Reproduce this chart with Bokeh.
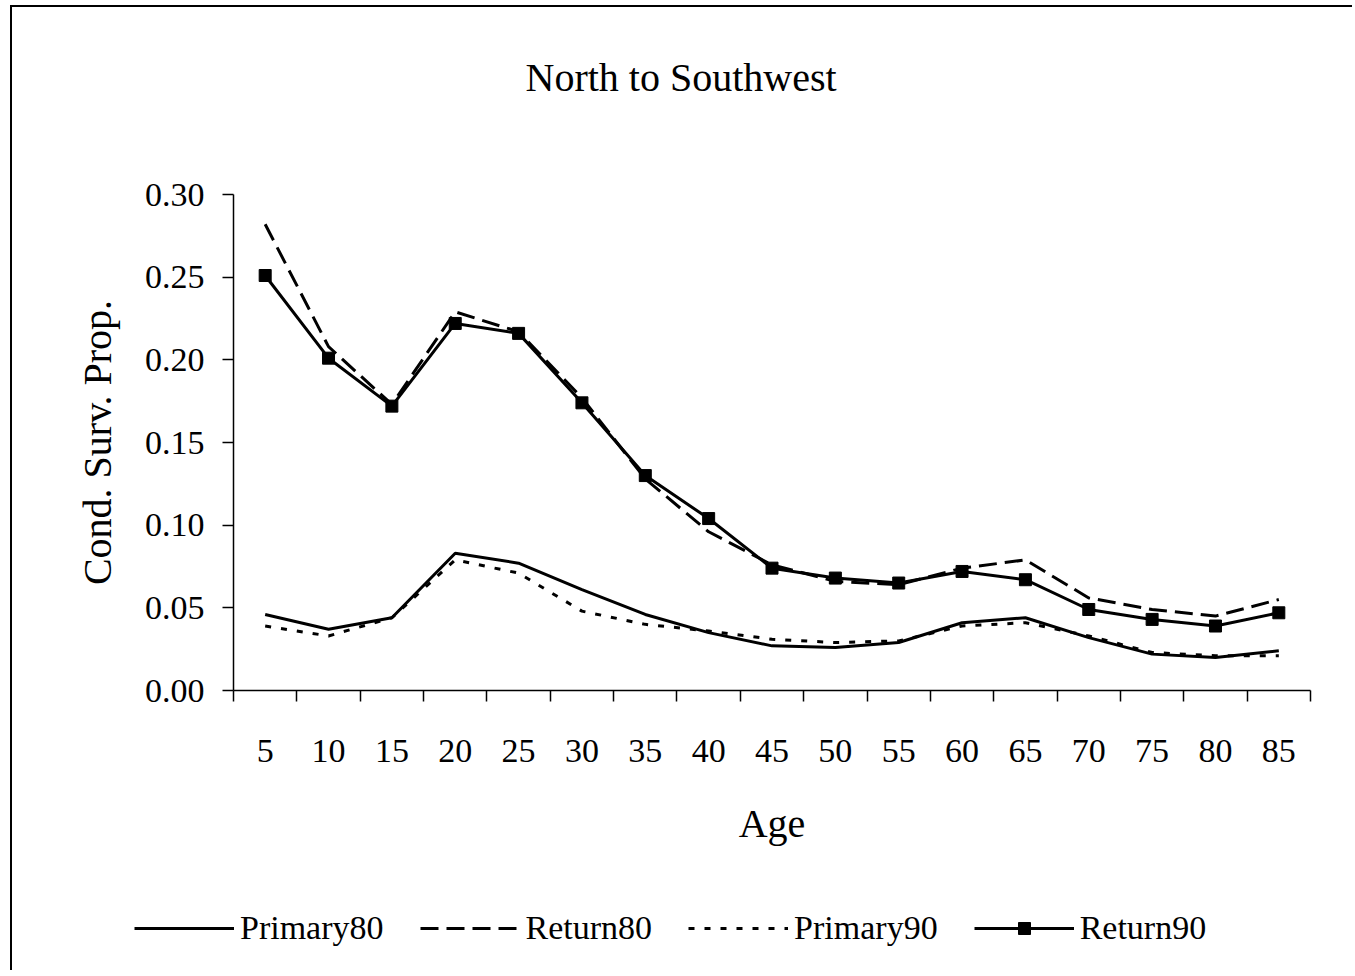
from bokeh.plotting import figure
from bokeh.models import (Range1d, FixedTicker, NumeralTickFormatter, Legend, LegendItem, LinearAxis)
from bokeh.embed import file_html
from bokeh.resources import INLINE

ages = [5, 10, 15, 20, 25, 30, 35, 40, 45, 50, 55, 60, 65, 70, 75, 80, 85]
primary80 = [0.046, 0.037, 0.044, 0.083, 0.077, 0.061, 0.046, 0.035, 0.027, 0.026, 0.029, 0.041, 0.044, 0.032, 0.022, 0.020, 0.024]
return80 = [0.282, 0.208, 0.173, 0.229, 0.217, 0.177, 0.128, 0.096, 0.076, 0.066, 0.064, 0.074, 0.079, 0.056, 0.049, 0.045, 0.055]
primary90 = [0.039, 0.033, 0.044, 0.079, 0.071, 0.048, 0.040, 0.036, 0.031, 0.029, 0.030, 0.039, 0.041, 0.033, 0.023, 0.021, 0.021]
return90 = [0.251, 0.201, 0.172, 0.222, 0.216, 0.174, 0.130, 0.104, 0.074, 0.068, 0.065, 0.072, 0.067, 0.049, 0.043, 0.039, 0.047]
y_ticks = [0.0, 0.05, 0.10, 0.15, 0.20, 0.25, 0.30]
series_names = ["Primary80", "Return80", "Primary90", "Return90"]

FONT = "Liberation Serif"
step = ages[1] - ages[0]
x_lo, x_hi = ages[0] - step / 2, ages[-1] + step / 2
y_lo, y_hi = y_ticks[0], y_ticks[-1]

# layout geometry (pixels): one big frame holds axes, plot area and legend
FW, FH = 1340, 840            # frame size
TOP = 123                     # space above frame for the title
AX_L, AX_R = 221, 1298        # plot-area left/right inside the frame
AX_T, AX_B = 64, 560          # plot-area top/bottom inside the frame
ppx = (AX_R - AX_L) / (x_hi - x_lo)
ppy = (AX_B - AX_T) / (y_hi - y_lo)
xr = Range1d(x_lo - AX_L / ppx, x_lo - AX_L / ppx + FW / ppx)
yr = Range1d(y_lo - (FH - AX_B) / ppy, y_lo - (FH - AX_B) / ppy + FH / ppy)

p = figure(frame_width=FW, frame_height=FH, output_backend="svg", toolbar_location=None,
           x_range=xr, y_range=yr, x_axis_type=None, y_axis_type=None,
           min_border_left=0, min_border_right=0, min_border_top=TOP, min_border_bottom=0,
           title="North to Southwest")
p.styles = {"border-left": "2px solid black", "border-top": "2px solid black",
            "margin-left": "10px", "margin-top": "5px"}

p.title.text_font = FONT
p.title.text_font_size = "40px"
p.title.text_font_style = "normal"
p.title.text_color = "black"
p.title.align = "left"
p.title.offset = 513
p.title.standoff = 62

p.outline_line_color = None
p.background_fill_color = "white"
p.border_fill_color = "white"

# x axis at y = 0
xa = LinearAxis(fixed_location=y_lo, bounds=(x_lo, x_hi))
xa.ticker = FixedTicker(ticks=ages, minor_ticks=[a - step / 2 for a in ages] + [x_hi])
xa.major_tick_out = 0
xa.major_tick_in = 0
xa.minor_tick_out = 11
xa.minor_tick_in = 0
xa.minor_tick_line_color = "black"
xa.minor_tick_line_width = 1.5
xa.axis_line_width = 1.5
xa.axis_line_color = "black"
xa.major_label_text_font = FONT
xa.major_label_text_font_size = "34px"
xa.major_label_text_color = "black"
xa.major_label_standoff = 38
xa.axis_label = "Age"
xa.axis_label_text_font = FONT
xa.axis_label_text_font_size = "40px"
xa.axis_label_text_font_style = "normal"
xa.axis_label_text_color = "black"
xa.axis_label_standoff = 36
p.add_layout(xa, "below")

# y axis at the left category edge
ya = LinearAxis(fixed_location=x_lo, bounds=(y_lo, y_hi))
ya.ticker = FixedTicker(ticks=y_ticks, minor_ticks=[])
ya.formatter = NumeralTickFormatter(format="0.00")
ya.major_tick_out = 11
ya.major_tick_in = 0
ya.major_tick_line_width = 1.5
ya.major_tick_line_color = "black"
ya.axis_line_width = 1.5
ya.axis_line_color = "black"
ya.major_label_text_font = FONT
ya.major_label_text_font_size = "34px"
ya.major_label_text_color = "black"
ya.major_label_standoff = 18
ya.axis_label = "Cond. Surv. Prop."
ya.axis_label_text_font = FONT
ya.axis_label_text_font_size = "40px"
ya.axis_label_text_font_style = "normal"
ya.axis_label_text_color = "black"
ya.axis_label_standoff = 22
p.add_layout(ya, "left")

r1 = p.line(ages, primary80, line_color="black", line_width=3)
r2 = p.line(ages, return80, line_color="black", line_width=3, line_dash="18 8")
r3 = p.line(ages, primary90, line_color="black", line_width=3, line_dash="6 10")
r4 = p.line(ages, return90, line_color="black", line_width=3)
r4m = p.scatter(ages, return90, marker="square", size=12, fill_color="black", line_color="black")

legend = Legend(items=[
    LegendItem(label=series_names[0], renderers=[r1]),
    LegendItem(label=series_names[1], renderers=[r2]),
    LegendItem(label=series_names[2], renderers=[r3]),
    LegendItem(label=series_names[3], renderers=[r4, r4m]),
], orientation="horizontal", location=(122, 23))
legend.border_line_color = None
legend.background_fill_alpha = 0
legend.label_text_font = FONT
legend.label_text_font_size = "34px"
legend.label_text_color = "black"
legend.glyph_width = 100
legend.glyph_height = 30
legend.label_standoff = 6
legend.spacing = 36
legend.padding = 5
legend.margin = 0
p.add_layout(legend, "center")

open("out.html", "w").write(file_html(p, INLINE))
